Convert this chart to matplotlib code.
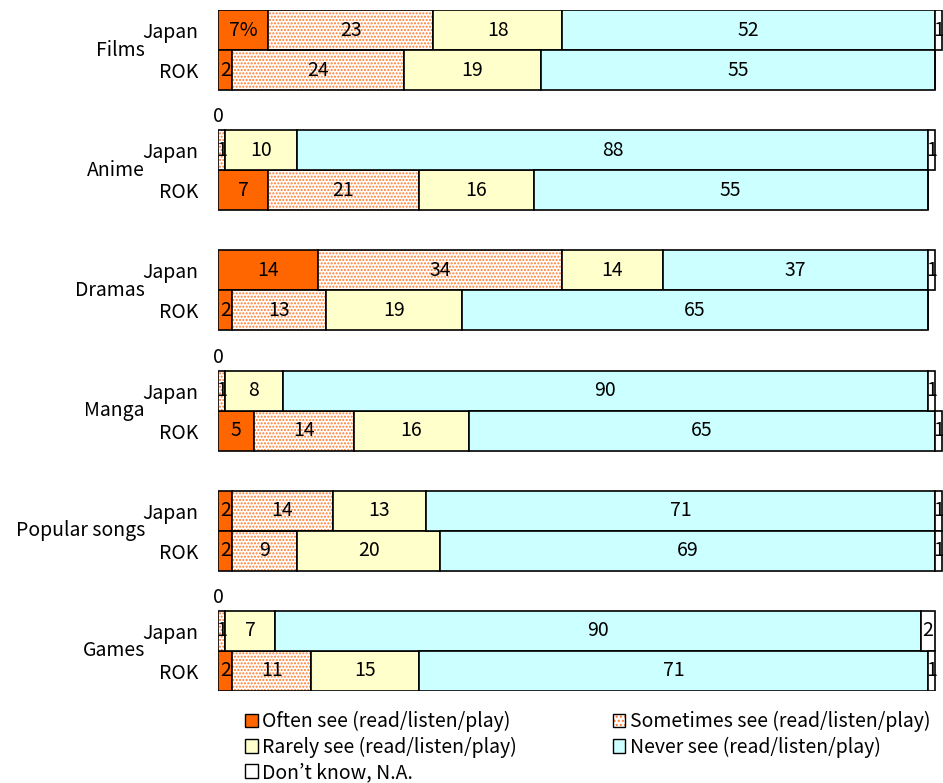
import numpy as np
import matplotlib.pyplot as plt
from matplotlib.patches import Patch
from matplotlib.transforms import blended_transform_factory

plt.rcParams['font.family'] = ['Noto Sans CJK JP', 'DejaVu Sans']
plt.rcParams['font.size'] = 14

groups = ['Films', 'Anime', 'Dramas', 'Manga', 'Popular songs', 'Games']
rows = ['Japan', 'ROK']

# one entry per bar: Japan, ROK for each group in turn
often = [7, 2, 0, 7, 14, 2, 0, 5, 2, 2, 0, 2]
sometimes = [23, 24, 1, 21, 34, 13, 1, 14, 14, 9, 1, 11]
rarely = [18, 19, 10, 16, 14, 19, 8, 16, 13, 20, 7, 15]
never = [52, 55, 88, 55, 37, 65, 90, 65, 71, 69, 90, 71]
dont_know = [1, 0, 1, 0, 1, 0, 1, 1, 1, 1, 2, 1]   # 0 = runs off the right edge, not labelled

seg_names = ['Often see (read/listen/play)', 'Sometimes see (read/listen/play)',
             'Rarely see (read/listen/play)', 'Never see (read/listen/play)',
             'Don\u2019t know, N.A.']
seg_colors = ['#FF6600', 'white', '#FFFFCC', '#CCFFFF', 'white']
dot_color = '#FF7A2A'

W, H = 943, 783
fig = plt.figure(figsize=(W / 100, H / 100), dpi=100)
ax = fig.add_axes([218 / W, 92 / H, 725 / W, 681 / H])

n = len(often)
ypos = np.array([3 * (i // 2) + i % 2 for i in range(n)])
lw = 1.2

left = np.zeros(n)
for k, vals in enumerate([often, sometimes, rarely, never, dont_know]):
    vals = np.array(vals, dtype=float)
    if k == 1:
        ax.barh(ypos, vals, left=left, height=1, color='white',
                edgecolor=dot_color, hatch='.....', linewidth=0)
        ax.barh(ypos, vals, left=left, height=1, fill=False,
                edgecolor='black', linewidth=lw)
    else:
        ax.barh(ypos, vals, left=left, height=1, color=seg_colors[k],
                edgecolor='black', linewidth=lw)
    for i, (y, l, v) in enumerate(zip(ypos, left, vals)):
        if v == 0:
            if k == 0:
                ax.text(l, y - 0.83, '0', ha='center', va='center')
            continue
        txt = f'{v:g}'
        if k == 0 and i == 0:
            txt += '%'
        ax.text(l + v / 2, y, txt, ha='center', va='center')
    left += vals

ax.set_xlim(0, 101.1)
ax.set_ylim(16.5, -0.5)
ax.set_yticks(ypos, [rows[i % 2] for i in range(n)])
ax.set_xticks([])
ax.tick_params(left=False, pad=10.4)
for s in ax.spines.values():
    s.set_visible(False)

trans = blended_transform_factory(fig.transFigure, ax.transData)
for g, name in enumerate(groups):
    ax.text(145 / W, 3 * g + 0.5, name, transform=trans, ha='right', va='center')

# legend handles, column-major order for a 2-column layout
h = [Patch(facecolor=seg_colors[0], edgecolor='black'),
     (Patch(facecolor='white', edgecolor=dot_color, hatch='....', linewidth=0),
      Patch(fill=False, edgecolor='black')),
     Patch(facecolor=seg_colors[2], edgecolor='black'),
     Patch(facecolor=seg_colors[3], edgecolor='black'),
     Patch(facecolor=seg_colors[4], edgecolor='black')]
order = [0, 2, 4, 1, 3]
fig.legend([h[i] for i in order], [seg_names[i] for i in order],
           loc='upper left', bbox_to_anchor=(245 / W, 1 - 711 / H),
           ncol=2, frameon=False, handlelength=0.65, handleheight=0.7,
           handletextpad=0.25, columnspacing=4.9, labelspacing=0.22,
           borderpad=0, borderaxespad=0)

fig.savefig('out.png', dpi=100)
